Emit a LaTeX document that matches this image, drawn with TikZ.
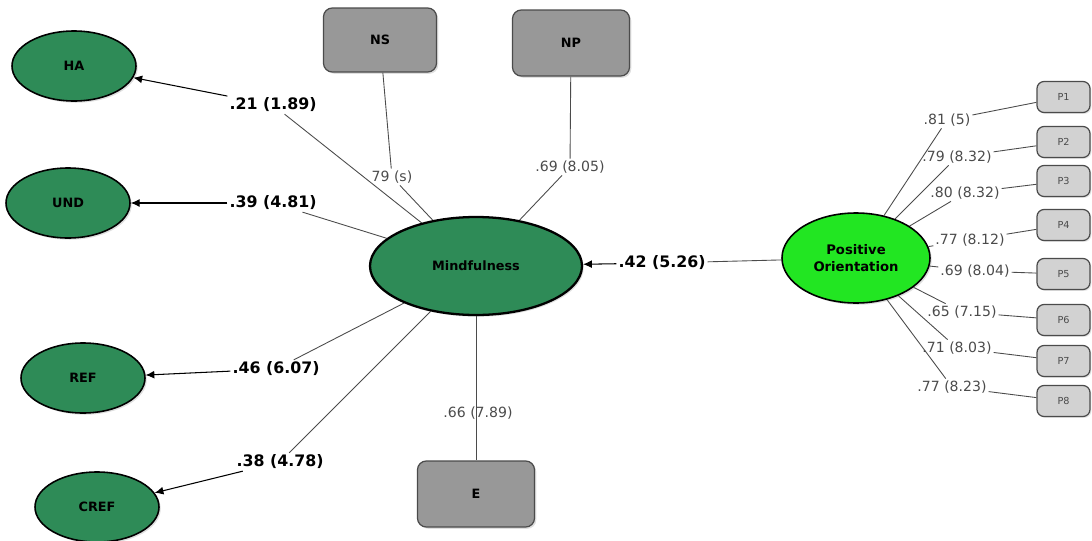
\documentclass[tikz,border=0pt]{standalone}
\usepackage{fontspec}
\setmainfont{DejaVu Sans}
\usetikzlibrary{arrows.meta,shapes.geometric,shadows}
\pgfdeclarelayer{edgelayer}
\pgfdeclarelayer{nodelayer}
\pgfsetlayers{edgelayer,nodelayer,main}
\definecolor{dgreen}{RGB}{46,139,87}
\definecolor{lgreen}{RGB}{34,230,34}
\definecolor{boxgray}{RGB}{152,152,152}
\definecolor{pgray}{RGB}{210,210,210}
\definecolor{edgegray}{RGB}{75,75,75}
\tikzstyle{latent}=[ellipse,fill=dgreen,draw=black,line width=0.9pt,minimum width=2.48cm,minimum height=1.40cm,inner sep=0pt,font=\fontsize{7.3}{8.5}\selectfont\bfseries,drop shadow={opacity=0.25,shadow xshift=1pt,shadow yshift=-1pt}]
\tikzstyle{indicator}=[rectangle,rounded corners=5pt,fill=boxgray,draw=edgegray,line width=0.7pt,minimum width=2.34cm,minimum height=1.32cm,font=\fontsize{7.3}{8.5}\selectfont\bfseries,drop shadow={opacity=0.25,shadow xshift=1pt,shadow yshift=-1pt}]
\tikzstyle{itembox}=[rectangle,rounded corners=4pt,fill=pgray,draw=edgegray,line width=0.7pt,minimum width=1.06cm,minimum height=0.62cm,font=\fontsize{5.5}{6}\selectfont,text=edgegray,drop shadow={opacity=0.2,shadow xshift=0.8pt,shadow yshift=-0.8pt}]
\tikzstyle{coef}=[inner sep=1pt,font=\fontsize{9}{10}\selectfont\bfseries]
\tikzstyle{loading}=[inner sep=1pt,font=\fontsize{8}{9}\selectfont,text=edgegray]
\tikzstyle{inarrow}=[-{Latex[length=5pt,width=4.5pt]},draw=black,line width=0.6pt]
\tikzstyle{simple}=[-,draw=edgegray,line width=0.5pt]

\begin{document}
\begin{tikzpicture}
	\useasboundingbox (0,0) rectangle (21.84,-10.82);
	\begin{pgfonlayer}{nodelayer}
		\node [style=latent] (HA) at (1.48,-1.32) {HA};
		\node [style=latent] (UND) at (1.36,-4.06) {UND};
		\node [style=latent] (REF) at (1.66,-7.56) {REF};
		\node [style=latent] (CREF) at (1.94,-10.14) {CREF};
		\node [style=latent, minimum width=4.24cm, minimum height=1.96cm, line width=1.3pt] (M) at (9.52,-5.32) {Mindfulness};
		\node [style=latent, fill=lgreen, minimum width=2.96cm, minimum height=1.80cm, align=center, font=\fontsize{7.5}{9.5}\selectfont\bfseries] (PO) at (17.12,-5.16) {Positive\\Orientation};
		\node [style=indicator, minimum width=2.26cm, minimum height=1.28cm] (NS) at (7.60,-0.80) {NS};
		\node [style=indicator] (NP) at (11.42,-0.86) {NP};
		\node [style=indicator] (E) at (9.52,-9.88) {E};
		\node [style=itembox] (P1) at (21.27,-1.94) {P1};
		\node [style=itembox] (P2) at (21.27,-2.84) {P2};
		\node [style=itembox] (P3) at (21.27,-3.62) {P3};
		\node [style=itembox] (P4) at (21.27,-4.50) {P4};
		\node [style=itembox] (P5) at (21.27,-5.48) {P5};
		\node [style=itembox] (P6) at (21.27,-6.40) {P6};
		\node [style=itembox] (P7) at (21.27,-7.22) {P7};
		\node [style=itembox] (P8) at (21.27,-8.02) {P8};
		\node [style=coef] (lHA) at (5.46,-2.10) {.21 (1.89)};
		\node [style=coef] (lUND) at (5.46,-4.06) {.39 (4.81)};
		\node [style=coef] (lREF) at (5.52,-7.38) {.46 (6.07)};
		\node [style=coef] (lCREF) at (5.60,-9.24) {.38 (4.78)};
		\node [style=coef] (lPO) at (13.24,-5.26) {.42 (5.26)};
		\node [style=loading] (lNS) at (7.84,-3.54) {79 (s)};
		\node [style=loading] (lNP) at (11.40,-3.34) {.69 (8.05)};
		\node [style=loading] (lE) at (9.56,-8.26) {.66 (7.89)};
		\node [style=loading] (l1) at (18.94,-2.40) {.81 (5)};
		\node [style=loading] (l2) at (19.14,-3.14) {.79 (8.32)};
		\node [style=loading] (l3) at (19.30,-3.86) {.80 (8.32)};
		\node [style=loading] (l4) at (19.40,-4.80) {.77 (8.12)};
		\node [style=loading] (l5) at (19.50,-5.42) {.69 (8.04)};
		\node [style=loading] (l6) at (19.24,-6.24) {.65 (7.15)};
		\node [style=loading] (l7) at (19.14,-6.96) {.71 (8.03)};
		\node [style=loading] (l8) at (19.04,-7.74) {.77 (8.23)};
	\end{pgfonlayer}
	\begin{pgfonlayer}{edgelayer}
		\draw [style=simple] (M) to (lHA);
		\draw [style=inarrow] (lHA) to (HA);
		\draw [style=simple] (M) to (lUND);
		\draw [style=inarrow] (lUND) to (UND);
		\draw [style=simple] (M) to (lREF);
		\draw [style=inarrow] (lREF) to (REF);
		\draw [style=simple] (M) to (lCREF);
		\draw [style=inarrow] (lCREF) to (CREF);
		\draw [style=simple] (PO) to (lPO);
		\draw [style=inarrow] (lPO) to (M);
		\draw [style=simple] (M) to (lNS);
		\draw [style=simple] (lNS) to (NS);
		\draw [style=simple] (M) to (lNP);
		\draw [style=simple] (lNP) to (NP);
		\draw [style=simple] (M) to (E);
		\foreach \i in {1,...,8} {
			\draw [style=simple] (PO) to (l\i);
			\draw [style=simple] (l\i) to (P\i);
		}
	\end{pgfonlayer}
\end{tikzpicture}
\end{document}
